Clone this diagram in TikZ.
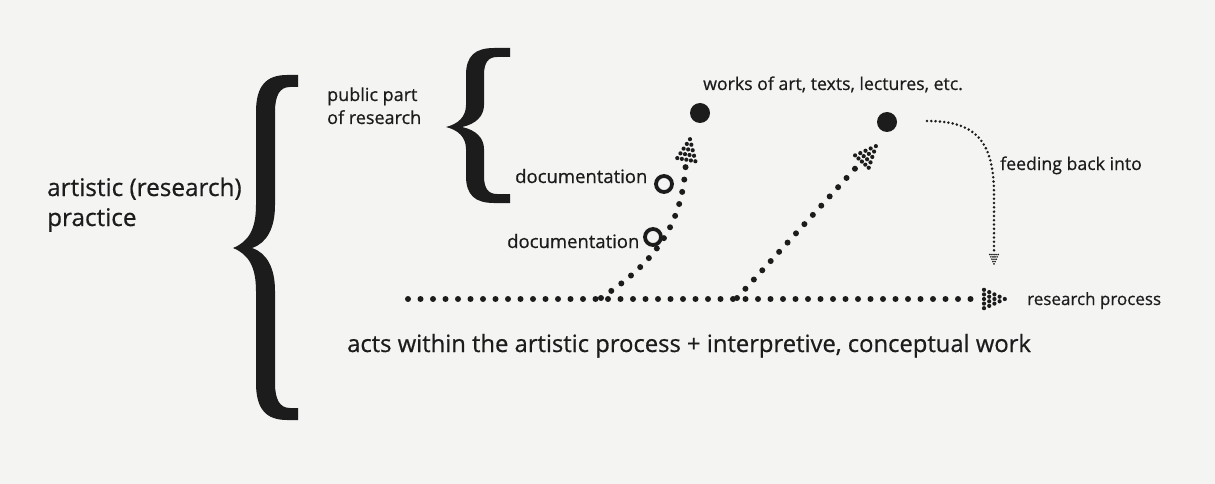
\documentclass[tikz,border=0pt]{standalone}
\usepackage{fontspec}
\setmainfont{Open Sans}[FakeBold=0.6]
\definecolor{paper}{RGB}{244,244,243}
\definecolor{ink}{RGB}{28,28,28}
\begin{document}
\begin{tikzpicture}[x=1pt,y=-1pt,
  lbl/.style={inner sep=0pt, text=ink, anchor=base west, align=left},
  big/.style={lbl, font=\fontsize{23.8}{30}\selectfont},
  mid/.style={lbl, font=\fontsize{24.3}{30}\selectfont},
  small/.style={lbl, font=\fontsize{17.7}{23}\selectfont},
  dotline/.style={draw=ink, line width=6pt, line cap=round, dash pattern=on 0pt off 12.5pt},
  fineline/.style={draw=ink, line width=2.8pt, line cap=round, dash pattern=on 0pt off 4.3pt},
  brace/.style={fill=ink, draw=none},
  dothead/.pic={
    \foreach \c/\n in {0/5,1/4,2/3,3/2,4/1} {
      \foreach \k in {1,...,\n} {
        \fill[ink] ({-21+5.2*\c},{(\k-1-(\n-1)/2)*4.6}) circle (2.1);
      }
    }
  }]
\fill[paper] (0,0) rectangle (1215,484);
\useasboundingbox (0,0) rectangle (1215,484);

% big brace
\path[brace] (298,75) -- (287,75) .. controls (266,75) and (256,86) .. (256,112) -- (256,205)
  .. controls (256,230) and (248,242) .. (233,248) .. controls (248,254) and (256,266) .. (256,291)
  -- (256,383) .. controls (256,409) and (266,420) .. (287,420) -- (298,420) -- (298,408) -- (290,408)
  .. controls (280,408) and (275,400) .. (275,383) -- (275,291) .. controls (275,268) and (267,253) .. (252,248)
  .. controls (267,243) and (275,228) .. (275,205) -- (275,112) .. controls (275,95) and (280,87) .. (290,87)
  -- (298,87) -- cycle;
% small brace
\path[brace] (510,48) -- (494,48) .. controls (475,48) and (466,56) .. (466,75) -- (466,105)
  .. controls (466,117) and (458,124) .. (446,127) .. controls (458,130) and (466,137) .. (466,149)
  -- (466,176) .. controls (466,195) and (475,203) .. (494,203) -- (510,203) -- (510,194) -- (497,194)
  .. controls (488,194) and (484,188) .. (484,176) -- (484,149) .. controls (484,138) and (476,130) .. (462,127)
  .. controls (476,124) and (484,116) .. (484,105) -- (484,75) .. controls (484,63) and (488,57) .. (497,57)
  -- (510,57) -- cycle;

% texts
\node[mid] (practice) at (47,226) {artistic (research)\\practice};
\node[lbl, font=\fontsize{18}{23}\selectfont] (public) at (327,124) {public part\\of research};
\node[small] (works) at (703,90) {works of art, texts, lectures, etc.};
\node[lbl, font=\fontsize{18.5}{23}\selectfont] (doc1) at (515,183) {documentation};
\node[lbl, font=\fontsize{18.5}{23}\selectfont] (doc2) at (507,248) {documentation};
\node[small] (feed) at (1000,170) {feeding back into};
\node[lbl, font=\fontsize{17}{23}\selectfont] (rp) at (1027,305) {research process};
\node[big] (acts) at (347,352) {acts within the artistic process + interpretive, conceptual work};

% coordinates
\coordinate (h0) at (408,299);
\coordinate (h1) at (980,299);
\coordinate (ht) at (1005,299);
\coordinate (a0) at (601,298);
\coordinate (a1) at (686,158);
\coordinate (at) at (690,139);
\coordinate (b0) at (737,298);
\coordinate (b1) at (862,161);
\coordinate (bt) at (876,146);
\coordinate (f0) at (927,121);
\coordinate (f1) at (994,254);
\coordinate (ft) at (994,264);

% dotted connectors
\path[dotline] (h0) -- (h1);
\pic at (ht) {dothead};
\path[dotline] (a0) .. controls (655,262) and (684,225) .. (a1);
\pic[rotate=80] at (at) {dothead};
\path[dotline] (b0) -- (b1);
\pic[rotate=47.8] at (bt) {dothead};
\path[fineline] (f0) .. controls (975,121) and (994,140) .. (994,195) -- (f1);
\pic[rotate=-90, scale=0.45] at (ft) {dothead};

% markers
\node[circle, fill=ink, minimum size=20pt, inner sep=0pt] (w1) at (700,113) {};
\node[circle, fill=ink, minimum size=20pt, inner sep=0pt] (w2) at (887,122) {};
\node[circle, draw=ink, fill=paper, line width=3.8pt, minimum size=16pt, inner sep=0pt] (d1) at (664,184) {};
\node[circle, draw=ink, fill=paper, line width=3.8pt, minimum size=16pt, inner sep=0pt] (d2) at (653,237) {};
\end{tikzpicture}
\end{document}
